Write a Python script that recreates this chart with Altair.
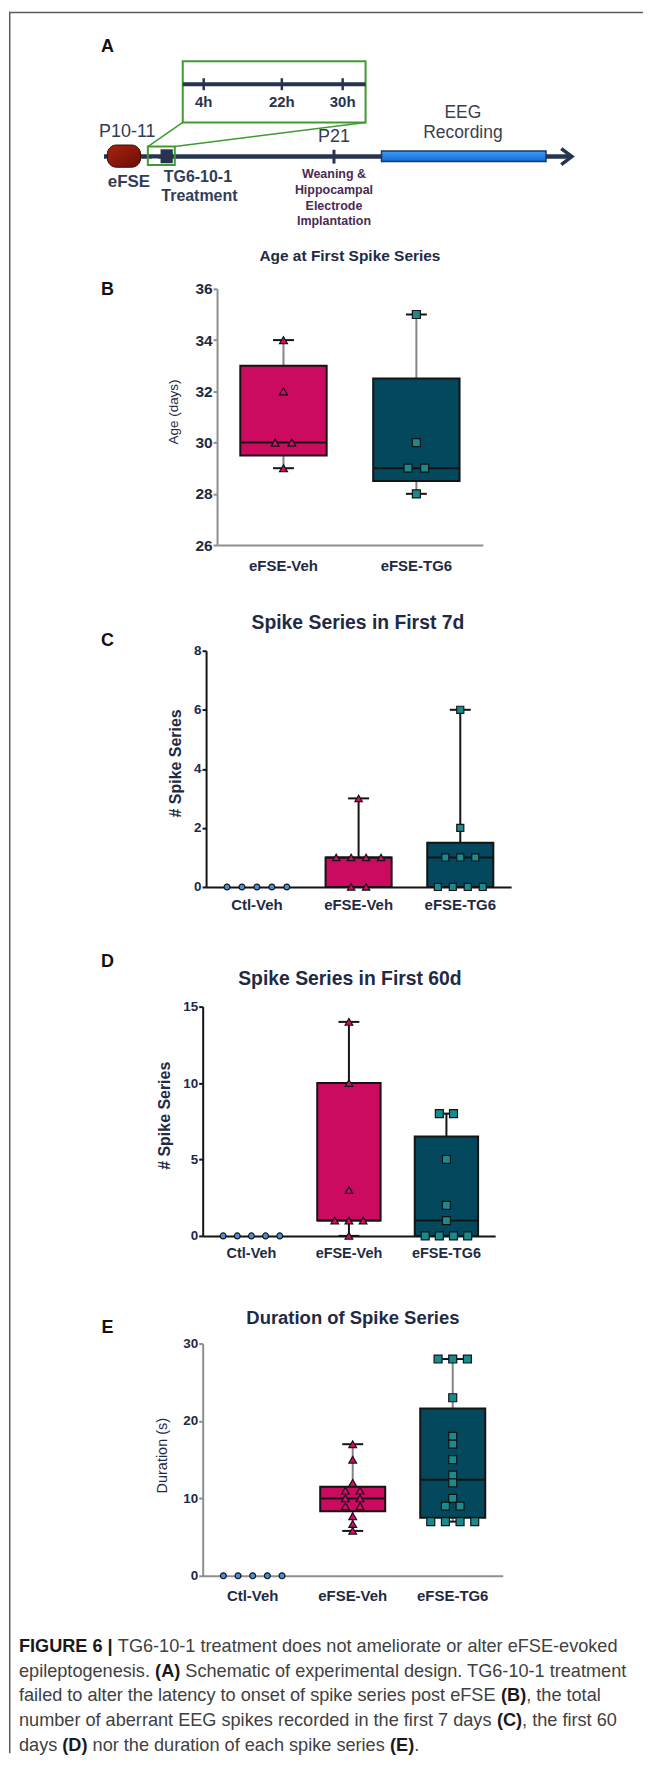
import altair as alt
import pandas as pd

FONT = "Liberation Sans"
TXT = "#1f2a44"
INK = "#141414"
NAVY = "#27344f"
GREEN = "#3f9b30"
FRAME = "#5c5c5c"
PINK = "#cc0a60"
TEAL = "#03485c"
TRI_FILL = "#d20c69"
SQ_FILL = "#1a8a8e"
CIRC_FILL = "#4b8fdc"
PURPLE = "#4b2a55"
W = 636

GROUPS3 = ["Ctl-Veh", "eFSE-Veh", "eFSE-TG6"]
GROUPS2 = ["eFSE-Veh", "eFSE-TG6"]
BOX_GROUPS = ["eFSE-Veh", "eFSE-TG6"]

# ---------------- values ----------------
# B: age at first spike series (days)
b_veh = [34, 32, 30, 30, 29]
b_tg6 = [35, 30, 29, 29, 28]
# C: spike series in first 7 d
c_ctl = [0, 0, 0, 0, 0]
c_veh = [3, 1, 1, 1, 1, 0, 0]
c_tg6 = [6, 2, 1, 1, 1, 0, 0, 0, 0]
# D: spike series in first 60 d
d_ctl = [0, 0, 0, 0, 0]
d_veh = [14, 10, 3, 1, 1, 1, 0]
d_tg6 = [8, 8, 5, 2, 1, 0, 0, 0, 0]
# E: duration of spike series (s)
e_ctl = [0, 0, 0, 0, 0]
e_veh = [17, 15, 12, 11, 11, 10, 10, 9, 9, 7.7, 6.7, 5.8]
e_tg6 = [28, 28, 28, 23, 18, 17, 15, 13, 12, 10, 9, 9, 7, 7, 7, 7]

# box statistics [q1, median, q3, whisker min, whisker max] for eFSE-Veh, eFSE-TG6
b_stats = [[29.5, 30, 33, 29, 34], [28.5, 29, 32.5, 28, 35]]
c_stats = [[0, 1, 1, 0, 3], [0, 1, 1.5, 0, 6]]
d_stats = [[1, 1, 10, 0, 14], [0, 1, 6.5, 0, 8]]
e_stats = [[8.35, 10, 11.5, 5.8, 17], [7.5, 12.4, 21.6, 7, 28]]

b_ticks = [26, 28, 30, 32, 34, 36]
c_ticks = [0, 2, 4, 6, 8]
d_ticks = [0, 5, 10, 15]
e_ticks = [0, 10, 20, 30]

SHAPE = {"Ctl-Veh": "circle", "eFSE-Veh": "triangle-up", "eFSE-TG6": "square"}
FILLS = {"Ctl-Veh": CIRC_FILL, "eFSE-Veh": TRI_FILL, "eFSE-TG6": SQ_FILL}


def jitter(groups, series, spacing, half):
    rows = []
    for g, vals in zip(groups, series):
        counts = {}
        for v in vals:
            counts[v] = counts.get(v, 0) + 1
        seen = {}
        for v in vals:
            k = seen.get(v, 0)
            seen[v] = k + 1
            rows.append({"group": g, "value": v,
                         "off": half + (k - (counts[v] - 1) / 2) * spacing})
    return pd.DataFrame(rows)


def text_layer(txt, x, y, size, weight="bold", color=TXT, font=FONT, align="center"):
    return alt.Chart(pd.DataFrame({"t": [txt]})).mark_text(
        font=font, fontSize=size, fontWeight=weight, color=color,
        align=align, baseline="middle").encode(
        text="t:N", x=alt.value(x), y=alt.value(y))


def make_panel(cfg):
    groups = cfg["groups"]
    x0, x1 = cfg["xr"]
    step = (x1 - x0) / len(groups)
    H = cfg["height"]
    top = cfg["top"]
    pts = jitter(groups, cfg["series"], cfg["spacing"], step / 2)
    box = pd.DataFrame(cfg["stats"], columns=["q1", "med", "q3", "lo", "hi"])
    box["group"] = BOX_GROUPS

    xs = alt.Scale(domain=groups, range=[x0, x1], paddingInner=0, paddingOuter=0)
    xax = alt.Axis(title=None, ticks=False, tickSize=0, domainColor=cfg["axis"],
                   domainWidth=2, labelFont=FONT, labelFontWeight="bold",
                   labelFontSize=cfg["xls"], labelColor=TXT, labelPadding=cfg["xlp"],
                   labelBaseline="middle", labelAngle=0)
    xenc = alt.X("group:N", sort=groups, scale=xs, axis=xax)
    ys = alt.Scale(domain=cfg["domain"], range=[H, top], nice=False, zero=False)
    yax = alt.Axis(values=cfg["ticks"], title=cfg["ytitle"], grid=False,
                   offset=-x0, domainColor=cfg["axis"], domainWidth=2,
                   tickColor=cfg["axis"], tickWidth=2, tickSize=4,
                   labelFont=FONT, labelFontWeight="bold", labelFontSize=cfg["yls"],
                   labelColor=TXT, labelPadding=1,
                   titleFont=FONT, titleFontSize=cfg["ytfont"][0],
                   titleFontWeight=cfg["ytfont"][1], titleColor=TXT,
                   titleX=cfg["ytx"], titleY=cfg["yty"], titleAngle=270,
                   titleAlign="center", titleBaseline="middle")

    def Y(f):
        return alt.Y(f"{f}:Q", scale=ys, axis=yax)

    base = alt.Chart(box)
    layers = [
        base.mark_rule(color=cfg["whisk"], strokeWidth=2).encode(x=xenc, y=Y("lo"), y2="q1:Q"),
        base.mark_rule(color=cfg["whisk"], strokeWidth=2).encode(x=xenc, y=Y("q3"), y2="hi:Q"),
        base.mark_bar(width=alt.RelativeBandSize(0.65), stroke=INK, strokeWidth=2).encode(
            x=xenc, y=Y("q1"), y2="q3:Q",
            color=alt.Color("group:N", scale=alt.Scale(domain=BOX_GROUPS, range=[PINK, TEAL]),
                            legend=None)),
        base.mark_tick(color=INK, size=step * 0.65, thickness=2, opacity=1).encode(x=xenc, y=Y("med")),
        base.mark_tick(color=INK, size=21, thickness=2, opacity=1).encode(x=xenc, y=Y("lo")),
        base.mark_tick(color=INK, size=21, thickness=2, opacity=1).encode(x=xenc, y=Y("hi")),
    ]
    for g in groups:
        layers.append(
            alt.Chart(pts).transform_filter(alt.datum.group == g).mark_point(
                shape=SHAPE[g], filled=True, fill=FILLS[g], stroke=INK, strokeWidth=1.2,
                size=cfg["sizes"][g], opacity=1).encode(
                x=xenc, xOffset=alt.XOffset("off:Q", scale=None), y=Y("value")))
    tf = cfg["tfont"]
    layers.append(text_layer(cfg["title"], cfg["tx"], cfg["ty"], tf[1], tf[2], TXT, tf[0]))
    layers.append(text_layer(cfg["letter"], 98.7, cfg["ly"], 18, "bold", "#111111"))
    return alt.layer(*layers).properties(width=W, height=H)


ROW_H = {"A": 200, "B": 335, "C": 343, "D": 350, "E": 341}

panel_b = make_panel(dict(
    letter="B", groups=GROUPS2, series=[b_veh, b_tg6], stats=b_stats,
    domain=[26, 36], ticks=b_ticks, xr=[208.7, 475.3], top=78, height=ROW_H["B"],
    ytitle="Age (days)", ytfont=(13.5, "normal"), ytx=-43.4, yty=201,
    title="Age at First Spike Series", tfont=(FONT, 15.5, "bold"), tx=342, ty=44.7, ly=78.7,
    axis="#8f8f8f", whisk="#858585",
    sizes={"eFSE-Veh": 64, "eFSE-TG6": 64}, spacing=16.7, xls=15, xlp=21, yls=15.5))

panel_c = make_panel(dict(
    letter="C", groups=GROUPS3, series=[c_ctl, c_veh, c_tg6], stats=c_stats,
    domain=[0, 8], ticks=c_ticks, xr=[197.7, 503.7], top=106, height=ROW_H["C"],
    ytitle="# Spike Series", ytfont=(16, "bold"), ytx=-30.2, yty=218.5,
    title="Spike Series in First 7d", tfont=(FONT, 19.4, "bold"), tx=350, ty=78.7, ly=96,
    axis=INK, whisk=INK,
    sizes={"Ctl-Veh": 35, "eFSE-Veh": 55, "eFSE-TG6": 50}, spacing=15, xls=15, xlp=18, yls=13.5))

panel_d = make_panel(dict(
    letter="D", groups=GROUPS3, series=[d_ctl, d_veh, d_tg6], stats=d_stats,
    domain=[0, 15], ticks=d_ticks, xr=[194.3, 487.7], top=120, height=ROW_H["D"],
    ytitle="# Spike Series", ytfont=(16, "bold"), ytx=-38.3, yty=229,
    title="Spike Series in First 60d", tfont=(FONT, 19.4, "bold"), tx=342, ty=92.3, ly=75.7,
    axis=INK, whisk=INK,
    sizes={"Ctl-Veh": 35, "eFSE-Veh": 60, "eFSE-TG6": 64}, spacing=14.2, xls=14.5, xlp=18, yls=13.5))

panel_e = make_panel(dict(
    letter="E", groups=GROUPS3, series=[e_ctl, e_veh, e_tg6], stats=e_stats,
    domain=[0, 30], ticks=e_ticks, xr=[194.3, 495.3], top=108, height=ROW_H["E"],
    ytitle="Duration (s)", ytfont=(14.5, "normal"), ytx=-40.6, yty=220,
    title="Duration of Spike Series", tfont=(FONT, 18.5, "bold"), tx=345, ty=82.3, ly=92,
    axis="#8f8f8f", whisk="#858585",
    sizes={"Ctl-Veh": 35, "eFSE-Veh": 60, "eFSE-TG6": 64}, spacing=14.7, xls=15, xlp=20, yls=13.5))

# ---------------- panel A: experimental design schematic ----------------
SH = ROW_H["A"]
sx = alt.Scale(domain=[0, W], nice=False, zero=False)
sy = alt.Scale(domain=[0, SH], nice=False, zero=False, reverse=True)


def SX(f):
    return alt.X(f"{f}:Q", scale=sx, axis=None)


def SY(f):
    return alt.Y(f"{f}:Q", scale=sy, axis=None)


zoom_box = pd.DataFrame({"x": [174.3], "x2": [357.7], "y": [49.7], "y2": [111.0]})
zoom_links = pd.DataFrame({"x": [139.3, 166.3], "y": [135.3, 135.3],
                           "x2": [174.3, 357.7], "y2": [111.0, 111.0]})
time_lines = pd.DataFrame({"x": [95.3, 174.3], "x2": [563.0, 357.7],
                           "y": [145.3, 72.7], "w": [4.5, 4.0]})
time_ticks = pd.DataFrame({"x": [195.3, 273.7, 334.7, 326.0],
                           "y": [66.7, 66.7, 66.7, 138.5],
                           "y2": [78.7, 78.7, 78.7, 152.3], "w": [2.5, 2.5, 2.5, 3.0]})
efse_pill = pd.DataFrame({"x": [98.7], "x2": [132.0], "y": [133.7], "y2": [156.0]})
treat_box = pd.DataFrame({"x": [139.3], "x2": [166.3], "y": [135.3], "y2": [153.7]})
treat_dose = pd.DataFrame({"x": [152.0], "x2": [164.3], "y": [138.0], "y2": [152.0]})
treat_gap = pd.DataFrame({"x": [143.5], "x2": [149.5], "y": [147.3], "y2": [151.8]})
eeg_bar = pd.DataFrame({"x": [373.7], "x2": [538.7], "y": [139.7], "y2": [150.3]})
arrow_head = pd.DataFrame({"x": [554.0, 564.7, 554.0], "y": [137.3, 145.3, 153.3], "i": [0, 1, 2]})

sch_text = pd.DataFrame([
    {"t": "4h", "x": 195.3, "y": 91.0, "s": 15, "b": True, "c": NAVY},
    {"t": "22h", "x": 273.7, "y": 91.0, "s": 15, "b": True, "c": NAVY},
    {"t": "30h", "x": 334.7, "y": 91.0, "s": 15, "b": True, "c": NAVY},
    {"t": "P10-11", "x": 118.7, "y": 120.3, "s": 18, "b": False, "c": "#333b55"},
    {"t": "eFSE", "x": 120.3, "y": 171.3, "s": 17, "b": True, "c": "#333b55"},
    {"t": "TG6-10-1", "x": 189.5, "y": 165.3, "s": 16, "b": True, "c": "#2f3d5a"},
    {"t": "Treatment", "x": 191.0, "y": 184.7, "s": 16, "b": True, "c": "#2f3d5a"},
    {"t": "P21", "x": 326.0, "y": 125.3, "s": 18, "b": False, "c": "#333b55"},
    {"t": "Weaning &", "x": 326.0, "y": 162.7, "s": 12.5, "b": True, "c": PURPLE},
    {"t": "Hippocampal", "x": 326.0, "y": 178.7, "s": 12.5, "b": True, "c": PURPLE},
    {"t": "Electrode", "x": 326.0, "y": 194.7, "s": 12.5, "b": True, "c": PURPLE},
    {"t": "Implantation", "x": 326.0, "y": 210.3, "s": 12.5, "b": True, "c": PURPLE},
    {"t": "EEG", "x": 455.3, "y": 102.0, "s": 17.5, "b": False, "c": "#3a3f4f"},
    {"t": "Recording", "x": 455.3, "y": 121.3, "s": 17.5, "b": False, "c": "#3a3f4f"},
])

pill_grad = {"gradient": "linear", "x1": 0, "y1": 0, "x2": 1, "y2": 1,
             "stops": [{"offset": 0, "color": "#a8220f"}, {"offset": 1, "color": "#6a0e07"}]}
eeg_grad = {"gradient": "linear", "x1": 0, "y1": 0, "x2": 0, "y2": 1,
            "stops": [{"offset": 0, "color": "#3e9dff"}, {"offset": 1, "color": "#0e6cd6"}]}


def rect_layer(df, **mark):
    return alt.Chart(df).mark_rect(**mark).encode(x=SX("x"), x2="x2:Q", y=SY("y"), y2="y2:Q")


def sch_text_layer(bold):
    return alt.Chart(sch_text).transform_filter(alt.datum.b == bold).mark_text(
        font=FONT, fontWeight="bold" if bold else "normal", baseline="middle",
        align="center").encode(
        x=SX("x"), y=SY("y"), text="t:N",
        size=alt.Size("s:Q", scale=None, legend=None),
        color=alt.Color("c:N", scale=None, legend=None))


panel_a = alt.layer(
    alt.Chart(pd.DataFrame({"side": ["top"]})).mark_rule(color=FRAME, strokeWidth=1.5).encode(
        x=alt.value(0), x2=alt.value(W), y=alt.value(0.75)),
    rect_layer(zoom_box, fill="white", fillOpacity=0, stroke=GREEN, strokeWidth=2),
    alt.Chart(zoom_links).mark_rule(color=GREEN, strokeWidth=1.5).encode(
        x=SX("x"), y=SY("y"), x2="x2:Q", y2="y2:Q"),
    alt.Chart(time_lines).mark_rule(color=NAVY).encode(
        x=SX("x"), x2="x2:Q", y=SY("y"), strokeWidth=alt.StrokeWidth("w:Q", scale=None)),
    alt.Chart(time_ticks).mark_rule(color=NAVY).encode(
        x=SX("x"), y=SY("y"), y2="y2:Q", strokeWidth=alt.StrokeWidth("w:Q", scale=None)),
    rect_layer(efse_pill, fill=pill_grad, stroke="#3d0b05", strokeWidth=1, cornerRadius=9),
    rect_layer(treat_box, fill="white", fillOpacity=0, stroke=GREEN, strokeWidth=2),
    rect_layer(treat_dose, fill=NAVY),
    rect_layer(treat_gap, fill="white"),
    rect_layer(eeg_bar, fill=eeg_grad, stroke=NAVY, strokeWidth=1.5),
    alt.Chart(arrow_head).mark_line(color=NAVY, strokeWidth=3.5).encode(
        x=SX("x"), y=SY("y"), order="i:Q"),
    sch_text_layer(False),
    sch_text_layer(True),
    text_layer("A", 98.7, 35.3, 18, "bold", "#111111"),
).properties(width=W, height=SH)

# ---------------- caption ----------------
UP = "ABCDEFGHIJKLMNOPQRSTUVWXYZ"
LO = "abcdefghijklmnopqrstuvwxyz"
REG_W = dict(zip(UP, [667, 667, 722, 722, 667, 611, 778, 722, 278, 500, 667, 556, 833,
                      722, 778, 667, 778, 722, 667, 611, 722, 667, 944, 667, 667, 611]))
REG_W.update(zip(LO, [556, 556, 500, 556, 556, 278, 556, 556, 222, 222, 500, 222, 833,
                      556, 556, 556, 556, 333, 500, 278, 556, 500, 722, 500, 500, 500]))
REG_W.update({" ": 278, "(": 333, ")": 333, ",": 278, "-": 333, ".": 278, "|": 260})
REG_W.update({d: 556 for d in "0123456789"})
BOLD_W = dict(zip(UP, [722, 722, 722, 722, 667, 611, 778, 722, 278, 556, 722, 611, 833,
                       722, 778, 667, 778, 722, 667, 611, 722, 667, 944, 667, 667, 611]))
BOLD_W.update(zip(LO, [556, 611, 556, 611, 556, 333, 611, 611, 278, 278, 556, 278, 889,
                       611, 611, 611, 611, 389, 556, 333, 611, 556, 778, 556, 556, 500]))
BOLD_W.update({" ": 278, "(": 333, ")": 333, ",": 278, "-": 333, ".": 278, "|": 280})
BOLD_W.update({d: 556 for d in "0123456789"})

caption_lines = [
    [("FIGURE 6 |", True), (" TG6-10-1 treatment does not ameliorate or alter eFSE-evoked", False)],
    [("epileptogenesis. ", False), ("(A)", True), (" Schematic of experimental design. TG6-10-1 treatment", False)],
    [("failed to alter the latency to onset of spike series post eFSE ", False), ("(B)", True), (", the total", False)],
    [("number of aberrant EEG spikes recorded in the first 7 days ", False), ("(C)", True), (", the first 60", False)],
    [("days ", False), ("(D)", True), (" nor the duration of each spike series ", False), ("(E)", True), (".", False)],
]
CAP_FS = 18.2
CAP_H = 179
ABOVE = sum(ROW_H.values())


def seg_w(s, bold):
    tbl = BOLD_W if bold else REG_W
    return sum(tbl.get(ch, 556) for ch in s) / 1000.0


cap_rows = []
for i, line in enumerate(caption_lines):
    cx = 0.0
    for seg, bold in line:
        lead = len(seg) - len(seg.lstrip(" "))
        cap_rows.append({"t": seg.strip(" "), "x": 10 + (cx + seg_w(" " * lead, bold)) * CAP_FS,
                         "y": 71 + 25 * i, "bold": bold})
        cx += seg_w(seg, bold)
cap_df = pd.DataFrame(cap_rows)


def cap_layer(bold):
    return alt.Chart(cap_df).transform_filter(alt.datum.bold == bold).mark_text(
        font=FONT, fontSize=CAP_FS, fontWeight="bold" if bold else "normal",
        color="#1a1a1a" if bold else "#404040", align="left", baseline="middle").encode(
        x=alt.X("x:Q", scale=None, axis=None), y=alt.Y("y:Q", scale=None, axis=None), text="t:N")


# one continuous left frame line for the whole figure
frame_left = alt.Chart(pd.DataFrame({"side": ["left"]})).mark_rule(
    color=FRAME, strokeWidth=1.5).encode(
    x=alt.value(0.75), y=alt.value(-ABOVE), y2=alt.value(CAP_H - 1))

caption = alt.layer(cap_layer(False), cap_layer(True), frame_left).properties(
    width=W, height=CAP_H)

chart = alt.vconcat(panel_a, panel_b, panel_c, panel_d, panel_e, caption,
                    spacing=0, bounds="flush").properties(padding=0).configure_view(stroke=None)

chart.save("out.html", embed_options={"renderer": "svg", "actions": False})
